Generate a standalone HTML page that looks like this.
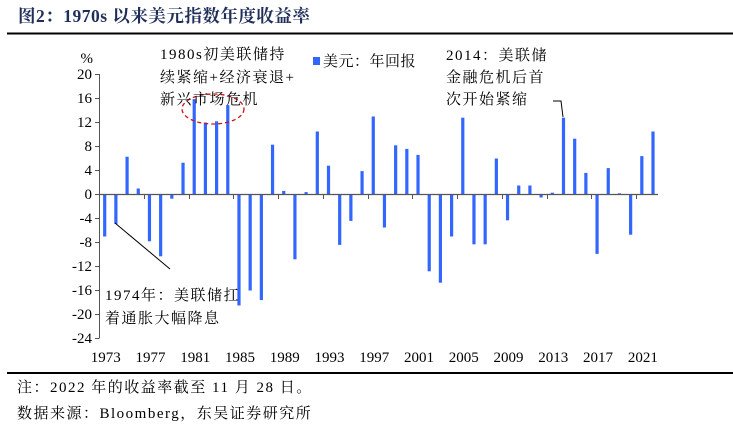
<!DOCTYPE html>
<html><head><meta charset="utf-8"><style>
body{margin:0;background:#fff;}
svg{display:block;font-family:"Liberation Serif","Noto Serif CJK SC",serif;}
</style></head><body>
<svg width="733" height="439" xmlns="http://www.w3.org/2000/svg">
<text x="18" y="22" font-size="17.5" font-weight="bold" fill="#1f2f5a" letter-spacing="0.5">图2：1970s 以来美元指数年度收益率</text>
<line x1="7" y1="33.5" x2="733" y2="33.5" stroke="#000" stroke-width="2"/>
<g font-size="15" fill="#000" text-anchor="end">
<text x="93" y="63">%</text>
<text x="92" y="79">20</text><text x="92" y="103">16</text><text x="92" y="127">12</text>
<text x="92" y="151">8</text><text x="92" y="175">4</text><text x="92" y="199">0</text>
<text x="92" y="223">-4</text><text x="92" y="247">-8</text><text x="92" y="271">-12</text>
<text x="92" y="295">-16</text><text x="92" y="319">-20</text><text x="92" y="343">-24</text>
</g>
<g stroke="#555" stroke-width="1">
<line x1="99.5" y1="74" x2="99.5" y2="338"/>
<line x1="95" y1="74.5" x2="99.5" y2="74.5"/><line x1="95" y1="98.5" x2="99.5" y2="98.5"/>
<line x1="95" y1="122.5" x2="99.5" y2="122.5"/><line x1="95" y1="146.5" x2="99.5" y2="146.5"/>
<line x1="95" y1="170.5" x2="99.5" y2="170.5"/><line x1="95" y1="194.5" x2="99.5" y2="194.5"/>
<line x1="95" y1="218.5" x2="99.5" y2="218.5"/><line x1="95" y1="242.5" x2="99.5" y2="242.5"/>
<line x1="95" y1="266.5" x2="99.5" y2="266.5"/><line x1="95" y1="290.5" x2="99.5" y2="290.5"/>
<line x1="95" y1="314.5" x2="99.5" y2="314.5"/><line x1="95" y1="338.5" x2="99.5" y2="338.5"/>
</g>
<g id="bars" fill="#3366ff"></g>
<line x1="99.5" y1="194.5" x2="658" y2="194.5" stroke="#555" stroke-width="1.3"/>
<g id="ticks" stroke="#555"></g>
<g id="xl" font-size="15" text-anchor="middle"></g>
<ellipse cx="213" cy="109" rx="31" ry="15" fill="none" stroke="#d01010" stroke-width="1.3" stroke-dasharray="4,3"/>
<line x1="115" y1="223" x2="170" y2="269" stroke="#000" stroke-width="1"/>
<polyline points="553,101 561,101 563,117" fill="none" stroke="#000" stroke-width="1"/>
<g font-size="15" fill="#000" letter-spacing="1.5">
<text x="160" y="59">1980s初美联储持</text>
<text x="160" y="82">续紧缩+经济衰退+</text>
<text x="160" y="104">新兴市场危机</text>
<text x="446" y="60">2014：美联储</text>
<text x="446" y="82">金融危机后首</text>
<text x="446" y="104">次开始紧缩</text>
<text x="105" y="300">1974年：美联储扛</text>
<text x="105" y="323">着通胀大幅降息</text>
</g>
<rect x="313" y="57" width="7" height="8" fill="#3366ff"/>
<text x="323" y="66" font-size="15" letter-spacing="0.5">美元：年回报</text>
<line x1="7" y1="373" x2="733" y2="373" stroke="#000" stroke-width="2"/>
<g font-size="15" fill="#000" letter-spacing="1.5">
<text x="17" y="392">注：2022 年的收益率截至 11 月 28 日。</text>
<text x="17" y="418">数据来源：Bloomberg，东吴证券研究所</text>
</g>
<script>
var v=[-7,-4.9,6.3,1.0,-7.8,-10.3,-0.7,5.3,15.9,12.0,12.2,14.9,-18.5,-16.0,-17.6,8.3,0.6,-10.8,0.4,10.5,4.8,-8.4,-4.4,3.9,13.0,-5.5,8.2,7.6,6.6,-12.8,-14.7,-7.0,12.8,-8.3,-8.3,6.0,-4.3,1.5,1.5,-0.5,0.3,12.8,9.3,3.6,-9.9,4.4,0.2,-6.7,6.4,10.5];
var b=document.getElementById('bars'),t=document.getElementById('ticks'),xl=document.getElementById('xl'),ns='http://www.w3.org/2000/svg',s=11.19;
v.forEach(function(d,i){var cx=104.7+i*s,r=document.createElementNS(ns,'rect');var y=d>=0?194.5-d*6:194.5;r.setAttribute('x',cx-1.6);r.setAttribute('y',y);r.setAttribute('width',3.2);r.setAttribute('height',Math.abs(d)*6);b.appendChild(r);
if(i%4==0){var tx=document.createElementNS(ns,'text');tx.setAttribute('x',cx+1);tx.setAttribute('y',362);tx.textContent=1973+i;xl.appendChild(tx);}
if(i%4==3){var l=document.createElementNS(ns,'line');var lx=Math.round(cx+s/2)+0.5;l.setAttribute('x1',lx);l.setAttribute('x2',lx);l.setAttribute('y1',194.5);l.setAttribute('y2',199);t.appendChild(l);}});
</script>
</svg>
</body></html>
